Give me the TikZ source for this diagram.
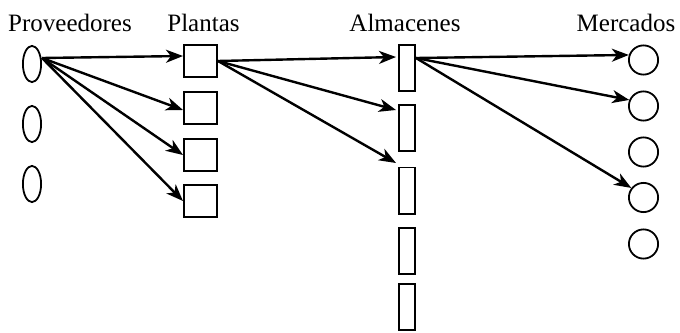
\documentclass[tikz,border=0pt]{standalone}
\usepackage{fontspec}
\setmainfont{Liberation Serif}
\usetikzlibrary{shapes.geometric, arrows.meta, positioning}
\tikzstyle{heading} = [anchor=base, inner sep=0pt, font=\fontsize{25}{30}\selectfont]
\tikzstyle{supplier} = [ellipse, draw, line width=1.8pt, minimum width=18.2pt, minimum height=36.2pt, inner sep=0pt]
\tikzstyle{plant} = [rectangle, draw, line width=1.8pt, minimum width=33.2pt, minimum height=32.2pt, inner sep=0pt]
\tikzstyle{warehouse} = [rectangle, draw, line width=1.8pt, minimum width=16.2pt, minimum height=46.2pt, inner sep=0pt]
\tikzstyle{market} = [circle, draw, line width=1.8pt, minimum size=29.2pt, inner sep=0pt]
\tikzstyle{flow} = [line width=2.4pt, -{Stealth[length=17pt, width=13pt, inset=5pt]}]

\begin{document}
\begin{tikzpicture}[x=1pt, y=1pt]
  \useasboundingbox (0,0) rectangle (680,-332);
  % headings
  \node (hprov) [heading] at (70,-31) {Proveedores};
  \node (hplant) [heading] at (203.5,-31) {Plantas};
  \node (halm) [heading] at (405,-31) {Almacenes};
  \node (hmerc) [heading] at (626,-31) {Mercados};
  % proveedores
  \node (ell1) [supplier] at (32,-64) {};
  \node (ell2) [supplier, below=22pt of ell1] {};
  \node (ell3) [supplier, below=22pt of ell2] {};
  % plantas
  \node (sq1) [plant] at (200.5,-61) {};
  \node (sq2) [plant, below=13pt of sq1] {};
  \node (sq3) [plant, below=13pt of sq2] {};
  \node (sq4) [plant, below=12pt of sq3] {};
  % almacenes
  \node (alm1) [warehouse] at (407,-68) {};
  \node (alm2) [warehouse, below=12pt of alm1] {};
  \node (alm3) [warehouse, below=14.5pt of alm2] {};
  \node (alm4) [warehouse, below=12.5pt of alm3] {};
  \node (alm5) [warehouse, below=8pt of alm4] {};
  % mercados
  \node (merc1) [market] at (643.5,-60) {};
  \node (merc2) [market, below=15pt of merc1] {};
  \node (merc3) [market, below=15pt of merc2] {};
  \node (merc4) [market, below=14.5pt of merc3] {};
  \node (merc5) [market, below=15.5pt of merc4] {};
  % flujos
  \draw [flow] ([yshift=6pt]ell1.east) -- ([yshift=5pt]sq1.west);
  \draw [flow] ([yshift=6pt]ell1.east) -- ([yshift=-2pt]sq2.west);
  \draw [flow] ([yshift=6pt]ell1.east) -- (sq3.west);
  \draw [flow] ([yshift=6pt]ell1.east) -- (sq4.west);
  \draw [flow] (sq1.east) -- ([shift={(-2pt,11pt)}]alm1.west);
  \draw [flow] (sq1.east) -- ([shift={(-2pt,18pt)}]alm2.west);
  \draw [flow] (sq1.east) -- ([shift={(-2pt,27.5pt)}]alm3.west);
  \draw [flow] ([yshift=10pt]alm1.east) -- (merc1.161);
  \draw [flow] ([yshift=10pt]alm1.east) -- (merc2.157);
  \draw [flow] ([yshift=10pt]alm1.east) -- (merc4.142);
\end{tikzpicture}
\end{document}
